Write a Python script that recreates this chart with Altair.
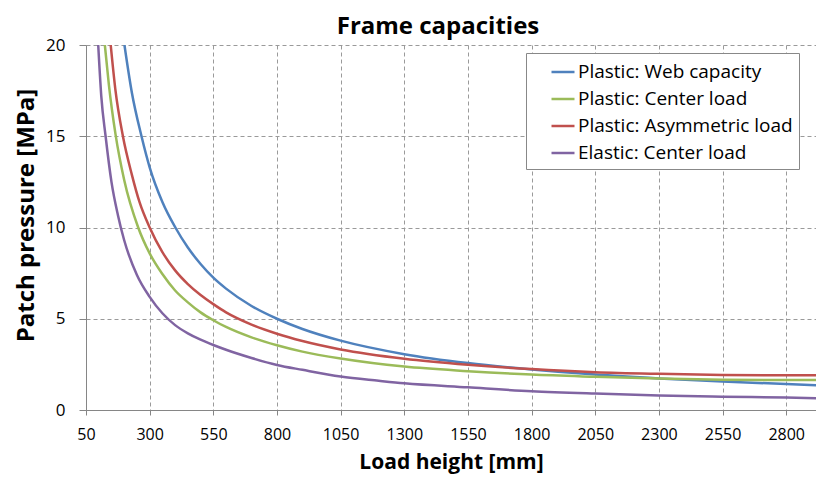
import altair as alt
import pandas as pd

# Load height [mm] and patch pressure [MPa]
web_x = [201, 230, 268, 300, 350, 401, 450, 500, 550, 600, 700, 800, 900, 1050,
         1300, 1550, 1800, 2050, 2300, 2550, 2800, 2940]
web_y = [20.0, 17.4, 15.0, 13.3, 11.4, 10.0, 8.9, 8.0, 7.25, 6.65, 5.7, 5.0, 4.44, 3.8,
         3.06, 2.57, 2.22, 1.94, 1.73, 1.56, 1.42, 1.35]

center_x = [124, 140, 166, 200, 255, 300, 350, 400, 450, 500, 550, 600, 700, 800, 900,
            1050, 1300, 1550, 1800, 2050, 2300, 2550, 2800, 2940]
center_y = [20.0, 17.8, 15.1, 12.6, 10.0, 8.58, 7.45, 6.55, 5.9, 5.35, 4.92, 4.55, 3.98,
            3.55, 3.2, 2.82, 2.38, 2.13, 1.94, 1.82, 1.72, 1.66, 1.64, 1.64]

asym_x = [147, 165, 195, 230, 260, 300, 350, 400, 450, 500, 550, 600, 700, 800, 900,
          1050, 1300, 1550, 1800, 2050, 2300, 2550, 2800, 2940]
asym_y = [20.0, 17.6, 15.0, 12.9, 11.4, 10.0, 8.65, 7.65, 6.9, 6.3, 5.8, 5.35, 4.68,
          4.18, 3.78, 3.32, 2.81, 2.48, 2.24, 2.07, 1.98, 1.92, 1.90, 1.90]

elastic_x = [98, 110, 127, 150, 175, 200, 250, 300, 350, 400, 450, 500, 550, 600, 700,
             800, 900, 1050, 1200, 1300, 1550, 1800, 2050, 2300, 2550, 2800, 2940]
elastic_y = [20.0, 17.2, 15.0, 12.5, 10.7, 9.3, 7.4, 6.2, 5.3, 4.65, 4.2, 3.85, 3.56,
             3.3, 2.85, 2.47, 2.2, 1.83, 1.6, 1.46, 1.24, 1.03, 0.9, 0.8, 0.73, 0.68, 0.64]

series_names = ["Plastic: Web capacity", "Plastic: Center load",
                "Plastic: Asymmetric load", "Elastic: Center load"]
series_colors = ["#4F81BD", "#9BBB59", "#C0504D", "#8064A2"]
x_ticks = [50, 300, 550, 800, 1050, 1300, 1550, 1800, 2050, 2300, 2550, 2800]
y_ticks = [0, 5, 10, 15, 20]

rows = []
for name, xs, ys in zip(series_names,
                        [web_x, center_x, asym_x, elastic_x],
                        [web_y, center_y, asym_y, elastic_y]):
    for i, (x, y) in enumerate(zip(xs, ys)):
        rows.append({"series": name, "h": x, "p": y, "order": i})
df = pd.DataFrame(rows)

FONT = "Open Sans"

chart = alt.Chart(df).mark_line(strokeWidth=2.5, interpolate="monotone", clip=True).encode(
    x=alt.X("h:Q",
            scale=alt.Scale(domain=[50, 2917], nice=False, zero=False),
            axis=alt.Axis(title="Load height [mm]", values=x_ticks, format="d",
                          labelFontSize=16, titleFontSize=21, titleFontWeight="bold",
                          titlePadding=9, labelPadding=11, tickSize=5,
                          labelFlush=False)),
    y=alt.Y("p:Q",
            scale=alt.Scale(domain=[0, 20], nice=False),
            axis=alt.Axis(title="Patch pressure [MPa]", values=y_ticks,
                          labelFontSize=17, titleFontSize=24, titleFontWeight="bold",
                          titlePadding=7, labelPadding=14, tickSize=7, titleY=170)),
    color=alt.Color("series:N",
                    scale=alt.Scale(domain=series_names, range=series_colors),
                    legend=alt.Legend(title=None, orient="none", legendX=440, legendY=8,
                                      symbolType="stroke", symbolSize=529,
                                      symbolStrokeWidth=2.5, labelFontSize=19,
                                      labelFont=FONT, rowPadding=4, padding=6,
                                      symbolOffset=18, labelOffset=2,
                                      strokeColor="#888888", fillColor="white",
                                      labelColor="#000000", labelLimit=400)),
    order="order:Q",
    detail="series:N",
).properties(
    width=730,
    height=365,
    title=alt.TitleParams("Frame capacities", fontSize=24, fontWeight="bold",
                          font=FONT, anchor="middle", dx=-13, offset=-3, color="#000000"),
    autosize=alt.AutoSizeParams(type="none"),
    padding={"left": 78, "top": 37, "right": 0, "bottom": 66},
).configure_axis(
    labelFont=FONT, titleFont=FONT, labelColor="#000000", titleColor="#000000",
    gridColor="#9a9a9a", gridDash=[4, 3], gridWidth=1,
    domainColor="#868686", tickColor="#868686", domainWidth=1,
).configure_view(stroke=None)

chart.save("out.html", embed_options={"renderer": "svg", "actions": False})
